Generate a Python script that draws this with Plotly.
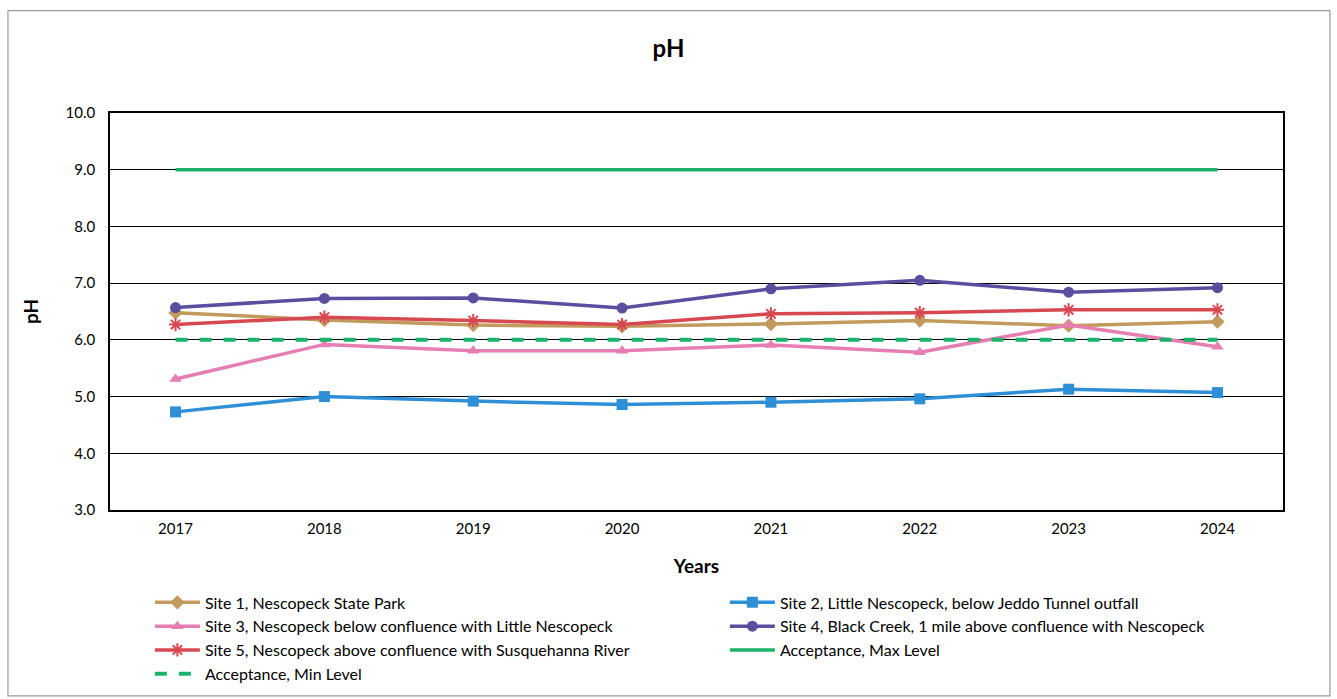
import plotly.graph_objects as go

years = ["2017", "2018", "2019", "2020", "2021", "2022", "2023", "2024"]

site1 = [6.48, 6.35, 6.26, 6.24, 6.28, 6.34, 6.25, 6.32]
site2 = [4.73, 5.00, 4.92, 4.86, 4.90, 4.96, 5.13, 5.07]
site3 = [5.31, 5.92, 5.81, 5.81, 5.91, 5.78, 6.26, 5.88]
site4 = [6.57, 6.73, 6.74, 6.56, 6.90, 7.05, 6.84, 6.92]
site5 = [6.27, 6.40, 6.34, 6.27, 6.46, 6.48, 6.53, 6.53]
max_level = [9.0] * 8
min_level = [6.0] * 8

FONT = "Lato, 'Open Sans', sans-serif"

series = [
    ("Site 1, Nescopeck State Park", site1, "#C29A5E", "diamond"),
    ("Site 2, Little Nescopeck, below Jeddo Tunnel outfall", site2, "#2F8FD6", "square"),
    ("Site 3, Nescopeck below confluence with Little Nescopeck", site3, "#E67DB3", "triangle-up"),
    ("Site 4, Black Creek, 1 mile above confluence with Nescopeck", site4, "#5A4F9F", "circle"),
    ("Site 5, Nescopeck above confluence with Susquehanna River", site5, "#D84850", "asterisk-open"),
]

fig = go.Figure()
for name, vals, color, sym in series:
    fig.add_trace(go.Scatter(
        x=years, y=vals, name=name, mode="lines+markers",
        line=dict(color=color, width=3.5),
        marker=dict(symbol=sym, size=11, color=color,
                    line=dict(color=color, width=2 if sym == "asterisk-open" else 0)),
    ))

fig.add_trace(go.Scatter(
    x=years, y=max_level, name="Acceptance, Max Level", mode="lines",
    line=dict(color="#1DB26B", width=3.5),
))
fig.add_trace(go.Scatter(
    x=years, y=min_level, name="Acceptance, Min Level", mode="lines",
    line=dict(color="#1DB26B", width=4, dash="dash"),
))

fig.update_layout(
    width=1337, height=699,
    paper_bgcolor="white", plot_bgcolor="white",
    margin=dict(l=110, r=54, t=113, b=189, autoexpand=False),
    font=dict(family=FONT, size=15, color="black"),
    title=dict(text="<b>pH</b>", x=0.5, xanchor="center", y=0.93, yanchor="middle",
               font=dict(size=24, family=FONT, color="black")),
    xaxis=dict(
        title=dict(text="<b>Years</b>", font=dict(size=19), standoff=24),
        showgrid=False, showline=True, linecolor="black", linewidth=1.5,
        mirror=True, ticks="", tickfont=dict(size=15), ticklabelstandoff=4,
    ),
    yaxis=dict(
        title=dict(text="<b>pH</b>", font=dict(size=19), standoff=22),
        range=[3, 10], dtick=1, tickformat=".1f",
        showgrid=True, gridcolor="black", gridwidth=1.2,
        showline=True, linecolor="black", linewidth=1.5, mirror=True,
        ticks="", tickfont=dict(size=15), zeroline=False, ticklabelstandoff=10,
    ),
    legend=dict(
        orientation="h", x=0.034, y=-0.19, xanchor="left", yanchor="top",
        entrywidth=515, entrywidthmode="pixels", tracegroupgap=0,
        font=dict(size=16), itemwidth=45,
    ),
    showlegend=True,
    shapes=[dict(type="rect", xref="paper", yref="paper",
                 x0=-0.087, x1=1.040, y0=-0.468, y1=1.258,
                 line=dict(color="#9a9a9a", width=1.2))],
)

fig.write_html("out.html")
